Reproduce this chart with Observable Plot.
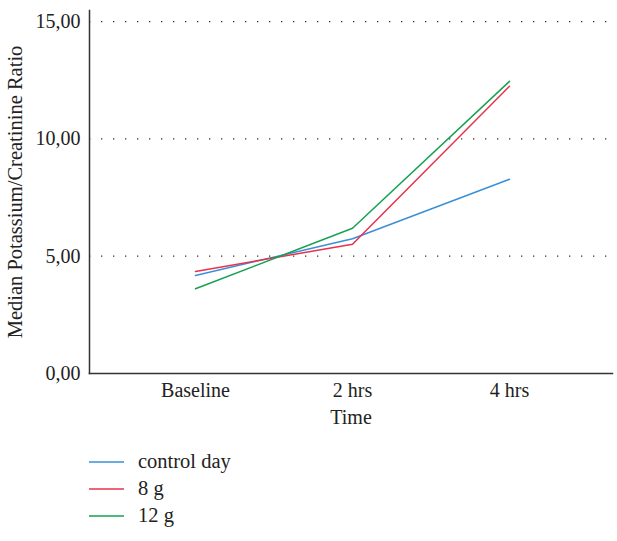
<!DOCTYPE html>
<html>
<head>
<meta charset="utf-8">
<script src="https://cdn.jsdelivr.net/npm/d3@7"></script>
<script src="https://cdn.jsdelivr.net/npm/@observablehq/plot@0.6"></script>
<style>
  body { margin: 0; background: #fff; font-family: "Liberation Serif", "DejaVu Serif", serif; }
  #legend { padding-left: 89px; margin-top: 8px; font-size: 20.5px; color: #222; }
  .row { display: flex; align-items: center; height: 27px; }
  .row svg { margin-right: 14px; }
</style>
</head>
<body>
<div id="chart"></div>
<div id="legend"></div>
<script>
const times = ["Baseline", "2 hrs", "4 hrs"];
const seriesNames = ["control day", "8 g", "12 g"];
const controlDay = [4.18, 5.74, 8.28];
const g8 = [4.35, 5.51, 12.24];
const g12 = [3.61, 6.19, 12.45];
const colors = ["#3a8fd6", "#e8314b", "#16a150"];
const yTicks = [0, 5, 10, 15];

const rows = [];
[controlDay, g8, g12].forEach((vals, i) => {
  vals.forEach((v, j) => rows.push({series: seriesNames[i], time: times[j], value: v}));
});

const fmt = v => v.toFixed(2).replace(".", ",");

const plot = Plot.plot({
  width: 617,
  height: 440,
  marginLeft: 89,
  marginRight: 5,
  marginTop: 10,
  marginBottom: 67,
  style: {fontFamily: "'Liberation Serif', serif", fontSize: "20px", color: "#222", background: "#fff"},
  x: {type: "point", domain: times, padding: 0.66, align: 0.505},
  y: {domain: [0, 15.47]},
  color: {domain: seriesNames, range: colors},
  marks: [
    Plot.gridY(yTicks.filter(d => d > 0), {stroke: "#333", strokeOpacity: 1, strokeWidth: 1.3, strokeDasharray: "1.3 10.7"}),
    Plot.axisY(yTicks, {tickSize: 0, tickPadding: 9, tickFormat: fmt, fontSize: 20,
      label: null}),
    Plot.axisY({tickSize: 0, ticks: [], fontSize: 20.5,
      label: "Median Potassium/Creatinine Ratio", labelAnchor: "center", labelOffset: 82, labelArrow: false}),
    Plot.axisX({tickSize: 0, tickPadding: 9, fontSize: 20, label: "Time", labelAnchor: "center", labelOffset: 50, labelArrow: false}),
    Plot.frame({anchor: "left", stroke: "#333", strokeWidth: 1.5}),
    Plot.frame({anchor: "bottom", stroke: "#333", strokeWidth: 1.5}),
    Plot.line(rows, {x: "time", y: "value", z: "series", stroke: "series", strokeWidth: 1.5})
  ]
});
document.getElementById("chart").appendChild(plot);

const legend = document.getElementById("legend");
const ns = "http://www.w3.org/2000/svg";
seriesNames.forEach((name, i) => {
  const row = document.createElement("div");
  row.className = "row";
  const sw = document.createElementNS(ns, "svg");
  sw.setAttribute("width", "35");
  sw.setAttribute("height", "4");
  const ln = document.createElementNS(ns, "line");
  ln.setAttribute("x1", "0"); ln.setAttribute("x2", "35");
  ln.setAttribute("y1", "2"); ln.setAttribute("y2", "2");
  ln.setAttribute("stroke", colors[i]);
  ln.setAttribute("stroke-width", "1.5");
  sw.appendChild(ln);
  const t = document.createElement("span");
  t.textContent = name;
  row.appendChild(sw);
  row.appendChild(t);
  legend.appendChild(row);
});
</script>
</body>
</html>
